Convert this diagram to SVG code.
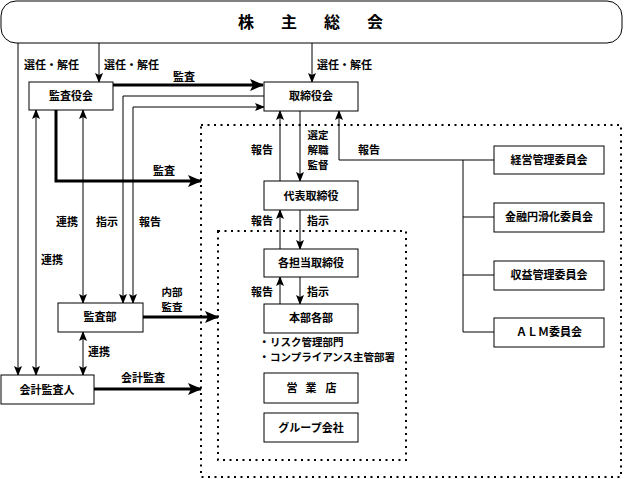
<svg xmlns="http://www.w3.org/2000/svg" width="624" height="479" viewBox="0 0 624 479">
<style>
text{font-family:"Noto Sans CJK JP","Noto Sans",sans-serif;font-size:11px;font-weight:bold;fill:#000}
.c{text-anchor:middle}
.s{font-size:10.5px}
.box{fill:#fff;stroke:#000;stroke-width:1}
.ln{fill:none;stroke:#000;stroke-width:1}
.tk{fill:none;stroke:#000;stroke-width:3}
.dot{fill:none;stroke:#000;stroke-width:2;stroke-dasharray:2 4.5}
.title{font-size:16px}
</style>
<defs>
<marker id="a" markerUnits="userSpaceOnUse" markerWidth="10" markerHeight="8" refX="9" refY="4" orient="auto-start-reverse"><path d="M0,0 L10,4 L0,8 L2,4 z" fill="#000"/></marker>
<marker id="at" markerUnits="userSpaceOnUse" markerWidth="14" markerHeight="12" refX="13" refY="6" orient="auto"><path d="M0,0 L14,6 L0,12 L3,6 z" fill="#000"/></marker>
</defs>
<g id="frames">
<rect class="dot" x="201" y="125" width="420" height="352"/>
<rect class="dot" x="218" y="231" width="188" height="229"/>
</g>
<g id="connectors">
<path class="ln" d="M18,43 V375" marker-end="url(#a)"/>
<path class="ln" d="M99,43 V82" marker-end="url(#a)"/>
<path class="ln" d="M312,43 V82" marker-end="url(#a)"/>
<path class="tk" d="M113,85 H263" marker-end="url(#at)"/>
<path class="ln" d="M264,96 H123 V303" marker-end="url(#a)"/>
<path class="ln" d="M133,303 V107 H264" marker-start="url(#a)" marker-end="url(#a)"/>
<path class="ln" d="M36,110 V375" marker-start="url(#a)" marker-end="url(#a)"/>
<path class="ln" d="M83,110 V303" marker-start="url(#a)" marker-end="url(#a)"/>
<path class="tk" d="M56,110 V181 H201" marker-end="url(#at)"/>
<path class="ln" d="M83,332 V375" marker-start="url(#a)" marker-end="url(#a)"/>
<path class="tk" d="M143,317 H218" marker-end="url(#at)"/>
<path class="tk" d="M94,389 H201" marker-end="url(#at)"/>
<path class="ln" d="M280,181 V111" marker-end="url(#a)"/>
<path class="ln" d="M300,111 V181" marker-end="url(#a)"/>
<path class="ln" d="M280,249 V210" marker-end="url(#a)"/>
<path class="ln" d="M300,210 V249" marker-end="url(#a)"/>
<path class="ln" d="M280,304 V277" marker-end="url(#a)"/>
<path class="ln" d="M300,277 V304" marker-end="url(#a)"/>
<path class="ln" d="M494,160 H339 V111" marker-end="url(#a)"/>
<path class="ln" d="M463,160 V332 H494 M463,217 H494 M463,275 H494"/>
</g>
<g id="labels">
<text x="24" y="69">選任・解任</text>
<text x="104" y="69">選任・解任</text>
<text x="317" y="69">選任・解任</text>
<text class="c" x="184" y="81">監査</text>
<text class="c" x="164" y="175">監査</text>
<text class="c" x="67" y="226">連携</text>
<text class="c" x="107" y="226">指示</text>
<text class="c" x="150" y="226">報告</text>
<text class="c" x="52" y="264">連携</text>
<text class="c" x="262" y="154">報告</text>
<text class="c" x="369" y="154">報告</text>
<text class="c s" x="318" y="139">選定</text>
<text class="c s" x="318" y="154">解職</text>
<text class="c s" x="318" y="169">監督</text>
<text class="c" x="262" y="225">報告</text>
<text class="c" x="318" y="225">指示</text>
<text class="c" x="262" y="296">報告</text>
<text class="c" x="318" y="296">指示</text>
<text class="c s" x="172" y="296">内部</text>
<text class="c s" x="172" y="311">監査</text>
<text class="c" x="99" y="356">連携</text>
<text class="c" x="143" y="382">会計監査</text>
<text class="s"><tspan x="259" y="346">・</tspan><tspan x="270" y="346">リスク管理部門</tspan></text>
<text class="s"><tspan x="259" y="361">・</tspan><tspan x="270" y="361">コンプライアンス主管部署</tspan></text>
</g>
<g id="n-soukai">
<rect class="box" x="1" y="1" width="621" height="42" rx="15"/>
<text class="c title" x="246 289 332 375" y="28">株主総会</text>
</g>
<g id="n-kansayakukai"><rect class="box" x="29" y="82" width="84" height="28"/><text class="c" x="71" y="100">監査役会</text></g>
<g id="n-torishimariyakukai"><rect class="box" x="264" y="82" width="94" height="29"/><text class="c" x="311" y="100">取締役会</text></g>
<g id="n-daihyo"><rect class="box" x="264" y="181" width="94" height="29"/><text class="c" x="311" y="200">代表取締役</text></g>
<g id="n-kakutanto"><rect class="box" x="264" y="249" width="94" height="28"/><text class="c" x="311" y="267">各担当取締役</text></g>
<g id="n-honbu"><rect class="box" x="264" y="304" width="94" height="29"/><text class="c" x="311" y="322">本部各部</text></g>
<g id="n-eigyoten"><rect class="box" x="264" y="373" width="94" height="30"/><text class="c" x="292 311 331" y="392">営業店</text></g>
<g id="n-group"><rect class="box" x="264" y="413" width="94" height="29"/><text class="c" x="311" y="432">グループ会社</text></g>
<g id="n-kansabu"><rect class="box" x="58" y="303" width="85" height="29"/><text class="c" x="100" y="321">監査部</text></g>
<g id="n-kaikei"><rect class="box" x="1" y="375" width="93" height="29"/><text class="c" x="47" y="394">会計監査人</text></g>
<g id="n-keiei"><rect class="box" x="494" y="146" width="110" height="28"/><text class="c" x="549" y="164">経営管理委員会</text></g>
<g id="n-kinyu"><rect class="box" x="494" y="203" width="110" height="29"/><text class="c" x="549" y="221">金融円滑化委員会</text></g>
<g id="n-shueki"><rect class="box" x="494" y="261" width="110" height="29"/><text class="c" x="549" y="279">収益管理委員会</text></g>
<g id="n-alm"><rect class="box" x="494" y="318" width="110" height="29"/><text class="c" x="549" y="336">ＡＬＭ委員会</text></g>
</svg>
